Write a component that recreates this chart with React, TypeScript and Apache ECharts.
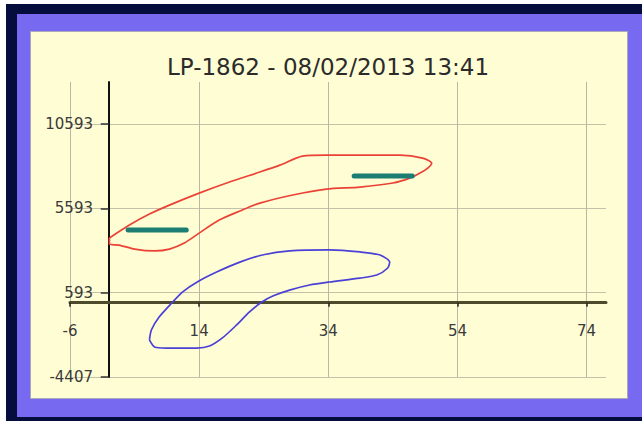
import React, { useEffect, useRef } from "react";
import * as echarts from "echarts";

const TITLE = "LP-1862 - 08/02/2013 13:41";
const X_TICKS = [-6, 14, 34, 54, 74];
const Y_TICKS = [-4407, 593, 5593, 10593];
const X_MIN = -6;
const X_MAX = 77;
const Y_MIN = -4407;
const Y_MAX = 13093;

const RED_LOOP: [number, number][] = [
  [0.1, 3840], [3.2, 4610], [6.3, 5260], [9.4, 5790], [14.0, 6500], [18.7, 7160],
  [23.4, 7750], [26.5, 8160], [30.0, 8700], [33.7, 8760], [45.1, 8760], [48.6, 8580],
  [50.0, 8280], [49.4, 7990], [48.2, 7690], [46.6, 7390], [44.0, 7100], [38.9, 6860],
  [33.7, 6740], [28.5, 6390], [23.4, 5910], [20.3, 5440], [17.1, 4900], [14.0, 4130],
  [11.7, 3540], [9.4, 3180], [7.1, 3070], [4.0, 3180], [1.6, 3420], [0.1, 3480], [0.1, 3840],
];

const BLUE_LOOP: [number, number][] = [
  [6.3, -2210], [6.6, -1620], [7.8, -850], [9.9, 40], [11.4, 630], [13.7, 1230],
  [16.7, 1820], [20.3, 2410], [23.8, 2830], [28.0, 3070], [34.2, 3130], [38.9, 3010],
  [42.0, 2830], [43.5, 2410], [43.2, 2060], [41.5, 1640], [38.9, 1460], [34.2, 1230],
  [31.1, 1050], [28.0, 750], [25.4, 400], [23.7, 40], [21.8, -550], [19.8, -1320],
  [17.6, -2090], [15.6, -2570], [13.6, -2690], [8.9, -2690], [7.1, -2630], [6.3, -2210],
];

const TEAL_LEFT: [number, number][] = [[3, 4310], [12, 4310]];
const TEAL_RIGHT: [number, number][] = [[38, 7510], [47, 7510]];

const FONT = "DejaVu Sans";

export default function App() {
  const ref = useRef<HTMLDivElement>(null);

  useEffect(() => {
    if (!ref.current) return;
    const chart = echarts.init(ref.current, null, { renderer: "svg" });
    const loopSeries = (name: string, data: [number, number][], color: string) => ({
      name,
      type: "line",
      data,
      showSymbol: false,
      smooth: 0.25,
      lineStyle: { color, width: 1.7 },
      z: 3,
    });
    chart.setOption({
      animation: false,
      backgroundColor: "transparent",
      title: {
        text: TITLE,
        left: 323,
        textAlign: "center",
        top: 50,
        textStyle: { fontFamily: FONT, fontSize: 23, fontWeight: "normal", color: "#2b2b2b" },
      },
      grid: { left: 70, right: 36, top: 82, bottom: 44, containLabel: false },
      xAxis: {
        type: "value",
        min: X_MIN,
        max: X_MAX,
        axisLine: { show: true, onZero: true, lineStyle: { color: "#4e4a2c", width: 3 } },
        axisTick: { show: true, inside: false, length: 4, customValues: X_TICKS, lineStyle: { color: "#222", width: 1.5 } },
        axisLabel: {
          customValues: X_TICKS,
          margin: -54,
          formatter: (v: number) => String(v),
          fontFamily: FONT,
          fontSize: 15,
          color: "#3a3a3a",
        },
        splitLine: { show: true, lineStyle: { color: "#b9b7a6", width: 1 } },
      },
      yAxis: {
        type: "value",
        min: Y_MIN,
        max: Y_MAX,
        axisLine: { show: true, onZero: true, lineStyle: { color: "#111", width: 2 } },
        axisTick: { show: true, inside: false, length: 8, customValues: Y_TICKS, lineStyle: { color: "#333", width: 1.5 } },
        axisLabel: {
          customValues: Y_TICKS,
          margin: -23,
          formatter: (v: number) => String(v),
          fontFamily: FONT,
          fontSize: 15,
          color: "#3a3a3a",
        },
        splitLine: { show: true, lineStyle: { color: "#c4c1aa", width: 1.2 } },
      },
      series: [
        loopSeries("red", RED_LOOP, "#ea4236"),
        loopSeries("blue", BLUE_LOOP, "#4a40d6"),
        {
          name: "tealLeft",
          type: "line",
          data: TEAL_LEFT,
          showSymbol: false,
          lineStyle: { color: "#1c7d72", width: 5, cap: "round" },
          z: 4,
        },
        {
          name: "tealRight",
          type: "line",
          data: TEAL_RIGHT,
          showSymbol: false,
          lineStyle: { color: "#1c7d72", width: 5, cap: "round" },
          z: 4,
        },
      ],
    });
    return () => chart.dispose();
  }, []);

  return (
    <div style={{ position: "fixed", left: 0, top: 0, width: 642, height: 421, background: "#ffffff", overflow: "hidden" }}>
      <div style={{ position: "absolute", left: 6, top: 4, right: 0, bottom: 0, background: "#040d3c" }} />
      <div style={{ position: "absolute", left: 17, top: 14, right: 0, bottom: 4, background: "#776af0" }} />
      <div
        style={{
          position: "absolute",
          left: 30,
          top: 31,
          width: 598,
          height: 368,
          background: "#fffdd4",
          boxSizing: "border-box",
          border: "1px solid #a9a7b8",
        }}
      />
      <div ref={ref} style={{ position: "absolute", left: 0, top: 0, width: 642, height: 421 }} />
    </div>
  );
}
